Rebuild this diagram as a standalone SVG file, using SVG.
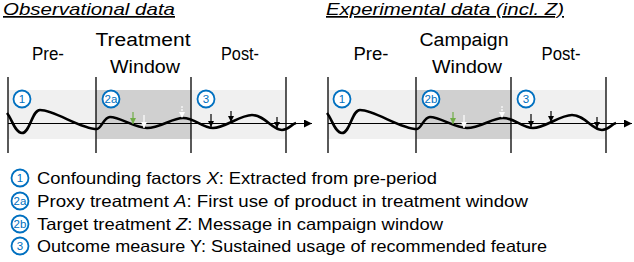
<svg xmlns="http://www.w3.org/2000/svg" width="634" height="262" viewBox="0 0 634 262">
<style>
text{font-family:"Liberation Sans",Arial,sans-serif;fill:#000}
.title{font-size:17px;font-style:italic;text-decoration:underline}
.hdr{font-size:18px;text-anchor:middle}
.leg{font-size:16.5px}
.num{font-size:11.5px;fill:#0070c0;text-anchor:middle}
.circ{fill:#fff;stroke:#0070c0;stroke-width:1.8}
.vline{stroke:#000;stroke-width:1.3}
.axis{stroke:#000;stroke-width:1.2;fill:none}
.wave{stroke:#000;stroke-width:2.6;fill:none}
.light{fill:#f0f0f0}
.dark{fill:#d0d0d0}
.ev{stroke-width:1.2;fill:none}
</style>
<defs>
<marker id="ah" markerWidth="8" markerHeight="8" refX="8" refY="4" orient="auto" markerUnits="userSpaceOnUse"><path d="M0,0 L8,4 L0,8 Z" fill="#000"/></marker>
<marker id="hk" markerWidth="6" markerHeight="6" refX="6" refY="3" orient="auto" markerUnits="userSpaceOnUse"><path d="M0,0 L6,3 L0,6 Z" fill="#000"/></marker>
<marker id="hg" markerWidth="6" markerHeight="6" refX="6" refY="3" orient="auto" markerUnits="userSpaceOnUse"><path d="M0,0 L6,3 L0,6 Z" fill="#70ad47"/></marker>
<marker id="hw" markerWidth="6" markerHeight="6" refX="6" refY="3" orient="auto" markerUnits="userSpaceOnUse"><path d="M0,0 L6,3 L0,6 Z" fill="#fff"/></marker>
<g id="panel">
<rect class="light" x="8" y="90" width="278" height="49"/>
<rect class="dark" x="96" y="90" width="95" height="49"/>
<line class="axis" x1="8" y1="123.5" x2="312" y2="123.5" marker-end="url(#ah)"/>
<path class="wave" d="M7,113 C12,119 15,133 22,133 C30,133 32,110 40,110 C55,110 80,129 97,129 C101,129 104,117 110,117 C120,117 135,128 147,128 C160,128 172,118 183,118 C195,118 202,128 213,128 C225,128 240,115 252,115 C265,115 272,130 282,130 C288,130 292,124 296,123"/>
<line class="vline" x1="8" y1="77" x2="8" y2="153"/>
<line class="vline" x1="96" y1="77" x2="96" y2="153"/>
<line class="vline" x1="191" y1="77" x2="191" y2="153"/>
<line class="vline" x1="286" y1="77" x2="286" y2="153"/>
<line class="ev" stroke="#70ad47" stroke-width="1.6" x1="133" y1="112" x2="133" y2="124" marker-end="url(#hg)"/>
<line class="ev" stroke="#fff" stroke-width="1.4" x1="144" y1="115" x2="144" y2="128" marker-end="url(#hw)"/>
<line class="ev" stroke="#fff" stroke-width="1.4" stroke-dasharray="2,1" x1="182" y1="106" x2="182" y2="118" marker-end="url(#hw)"/>
<line class="ev" stroke="#000" x1="211" y1="114" x2="211" y2="127" marker-end="url(#hk)"/>
<line class="ev" stroke="#000" x1="231" y1="111" x2="231" y2="122" marker-end="url(#hk)"/>
<line class="ev" stroke="#000" x1="277" y1="117" x2="277" y2="128" marker-end="url(#hk)"/>
<circle class="circ" cx="22" cy="99" r="8.5"/><text class="num" x="22" y="103">1</text>
<circle class="circ" cx="206" cy="99" r="8.5"/><text class="num" x="206" y="103">3</text>
</g>
</defs>

<g id="observational">
<text class="title" x="3" y="15" textLength="172" lengthAdjust="spacingAndGlyphs">Observational data</text>
<text class="hdr" x="48" y="60" textLength="32" lengthAdjust="spacingAndGlyphs">Pre-</text>
<text class="hdr" x="143" y="46" textLength="95" lengthAdjust="spacingAndGlyphs">Treatment</text>
<text class="hdr" x="145" y="73" textLength="70" lengthAdjust="spacingAndGlyphs">Window</text>
<text class="hdr" x="240" y="60" textLength="38" lengthAdjust="spacingAndGlyphs">Post-</text>
<use href="#panel"/>
<circle class="circ" cx="111" cy="99" r="8.5"/><text class="num" x="111" y="103">2a</text>
</g>

<g id="experimental">
<text class="title" x="326" y="15" textLength="238" lengthAdjust="spacingAndGlyphs">Experimental data (incl. Z)</text>
<text class="hdr" x="371" y="60" textLength="35" lengthAdjust="spacingAndGlyphs">Pre-</text>
<text class="hdr" x="464" y="46" textLength="89" lengthAdjust="spacingAndGlyphs">Campaign</text>
<text class="hdr" x="467" y="73" textLength="70" lengthAdjust="spacingAndGlyphs">Window</text>
<text class="hdr" x="561" y="60" textLength="39" lengthAdjust="spacingAndGlyphs">Post-</text>
<use href="#panel" transform="translate(320,0)"/>
<circle class="circ" cx="431" cy="99" r="8.5"/><text class="num" x="431" y="103">2b</text>
</g>

<g id="legend">
<g id="leg1"><circle class="circ" cx="20" cy="178" r="8.5"/><text class="num" x="20" y="182">1</text>
<text class="leg" x="37" y="184" textLength="400" lengthAdjust="spacingAndGlyphs">Confounding factors <tspan font-style="italic">X</tspan>: Extracted from pre-period</text></g>
<g id="leg2a"><circle class="circ" cx="20" cy="201" r="8.5"/><text class="num" x="20" y="205">2a</text>
<text class="leg" x="37" y="207" textLength="491" lengthAdjust="spacingAndGlyphs">Proxy treatment <tspan font-style="italic">A</tspan>: First use of product in treatment window</text></g>
<g id="leg2b"><circle class="circ" cx="20" cy="224" r="8.5"/><text class="num" x="20" y="228">2b</text>
<text class="leg" x="37" y="230" textLength="406" lengthAdjust="spacingAndGlyphs">Target treatment <tspan font-style="italic">Z</tspan>: Message in campaign window</text></g>
<g id="leg3"><circle class="circ" cx="20" cy="246" r="8.5"/><text class="num" x="20" y="250">3</text>
<text class="leg" x="37" y="252" textLength="510" lengthAdjust="spacingAndGlyphs">Outcome measure Y: Sustained usage of recommended feature</text></g>
</g>
</svg>
